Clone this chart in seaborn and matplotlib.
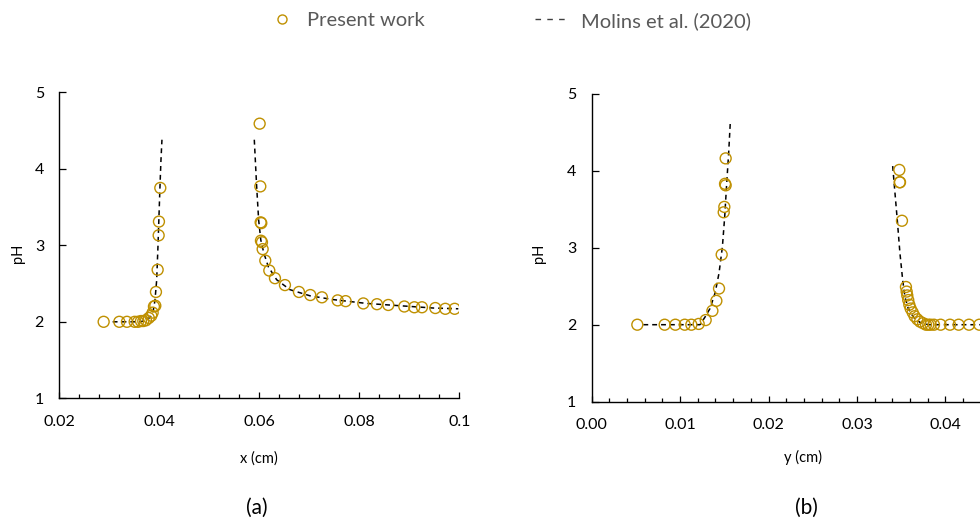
import numpy as np
import pandas as pd
import matplotlib
matplotlib.use("Agg")
import matplotlib.pyplot as plt
import seaborn as sns
from matplotlib.ticker import MultipleLocator
from matplotlib.lines import Line2D

# ---------------- data ----------------
# Panel (a): present work (markers)
a_pw_x = [0.02887, 0.0320, 0.03353, 0.03507, 0.03573, 0.03633, 0.0368, 0.03733, 0.0379, 0.0384,
          0.03867, 0.03893, 0.0392, 0.03933, 0.03967, 0.03987, 0.03993, 0.0402,
          0.06007, 0.0602, 0.06027, 0.0604, 0.06033, 0.06053, 0.06067, 0.0612, 0.062, 0.06313,
          0.06513, 0.06793, 0.0702, 0.07253, 0.07567, 0.07727, 0.0808, 0.08353, 0.0858, 0.089,
          0.091, 0.09253, 0.0952, 0.0972, 0.09907]
a_pw_ph = [2.00, 2.00, 2.00, 2.00, 2.00, 2.01, 2.01, 2.02, 2.05, 2.08,
           2.12, 2.20, 2.21, 2.39, 2.68, 3.13, 3.31, 3.75,
           4.59, 3.77, 3.30, 3.29, 3.06, 3.04, 2.95, 2.80, 2.67, 2.57,
           2.48, 2.39, 2.35, 2.32, 2.28, 2.27, 2.24, 2.23, 2.22, 2.20,
           2.19, 2.19, 2.18, 2.17, 2.17]
# Panel (a): Molins et al. (2020) (dashed), two branches
a_mol_left_x = [0.03067, 0.03613, 0.03747, 0.03827, 0.0388, 0.03913, 0.03947, 0.03973, 0.03993, 0.04013, 0.04033, 0.04053]
a_mol_left_ph = [2.00, 2.00, 2.02, 2.07, 2.15, 2.28, 2.54, 2.98, 3.37, 3.76, 4.11, 4.38]
a_mol_right_x = [0.0590, 0.05947, 0.05987, 0.0603, 0.0609, 0.0618, 0.06347, 0.06613, 0.07013, 0.0748, 0.08147, 0.08813, 0.0948, 0.0998]
a_mol_right_ph = [4.38, 3.77, 3.33, 3.07, 2.90, 2.72, 2.55, 2.42, 2.34, 2.29, 2.24, 2.21, 2.18, 2.17]

# Panel (b): present work (markers)
b_pw_y = [0.00516, 0.00825, 0.00946, 0.01052, 0.01127, 0.0121, 0.01289, 0.01365, 0.0141, 0.0144,
          0.0147, 0.01493, 0.0150, 0.01508, 0.01515, 0.01515,
          0.03479, 0.03483, 0.03487, 0.03509, 0.03554, 0.03562, 0.03569, 0.0358, 0.03592, 0.03607,
          0.0363, 0.03652, 0.03683, 0.03713, 0.03747, 0.03781, 0.03807, 0.03833, 0.03871, 0.03946,
          0.04052, 0.0415, 0.04267, 0.04384]
b_pw_ph = [2.00, 2.00, 2.00, 2.00, 2.00, 2.01, 2.06, 2.18, 2.31, 2.47,
           2.91, 3.46, 3.53, 3.83, 3.81, 4.16,
           4.01, 3.85, 3.85, 3.35, 2.49, 2.43, 2.38, 2.32, 2.26, 2.21,
           2.16, 2.11, 2.07, 2.04, 2.02, 2.00, 2.00, 2.00, 2.00, 2.00,
           2.00, 2.00, 2.00, 2.00]
b_mol_left_y = [0.00584, 0.01225, 0.01282, 0.01338, 0.01395, 0.0144, 0.01478, 0.01504, 0.01527, 0.01549, 0.01568]
b_mol_left_ph = [2.00, 2.00, 2.10, 2.21, 2.41, 2.67, 3.01, 3.40, 3.84, 4.23, 4.64]
b_mol_right_y = [0.03404, 0.0343, 0.03456, 0.03486, 0.03517, 0.03543, 0.0358, 0.03637, 0.03713, 0.03807, 0.0439, 0.0500]
b_mol_right_ph = [4.06, 3.71, 3.36, 2.93, 2.58, 2.36, 2.21, 2.10, 2.03, 2.00, 2.00, 2.00]

a_ticks = [0.02, 0.04, 0.06, 0.08, 0.1]
a_ticklabels = ["0.02", "0.04", "0.06", "0.08", "0.1"]
b_ticks = [0.0, 0.01, 0.02, 0.03, 0.04]
b_ticklabels = ["0.00", "0.01", "0.02", "0.03", "0.04"]
legend_labels = ["Present work", "Molins et al. (2020)"]
panel_labels = ["(a)", "(b)"]

# ---------------- style ----------------
sns.set_theme(style="white")
plt.rcParams['font.family'] = ['Lato', 'DejaVu Sans']

MARK = "#BF9000"
W, H = 980, 519
fig = plt.figure(figsize=(9.8, 5.19), dpi=100)
ax_a = fig.add_axes([59.3 / W, 1 - 398.3 / H, 400 / W, 306 / H])
ax_b = fig.add_axes([591.7 / W, 1 - 401.7 / H, 442.1 / W, 308 / H])

def draw(ax, mx, my, l1x, l1y, l2x, l2y):
    for lx, ly in [(l1x, l1y), (l2x, l2y)]:
        df = pd.DataFrame({"x": lx, "y": ly})
        sns.lineplot(data=df, x="x", y="y", ax=ax, color="black", lw=1.1,
                     sort=False, estimator=None, zorder=2)
        ax.lines[-1].set_dashes([3.2, 2.6])
    dfm = pd.DataFrame({"x": mx, "y": my})
    sns.scatterplot(data=dfm, x="x", y="y", ax=ax, s=62, facecolor="none",
                    edgecolor=MARK, linewidth=1.0, zorder=3)
    ax.set_ylim(1, 5)
    ax.yaxis.set_major_locator(MultipleLocator(1))
    for s in ["top", "right"]:
        ax.spines[s].set_visible(False)
    for s in ["left", "bottom"]:
        ax.spines[s].set_color("black")
        ax.spines[s].set_linewidth(1.0)
    ax.tick_params(axis="both", which="both", direction="in", colors="black",
                   labelsize=11.5, width=0.9, bottom=True, left=True)
    ax.tick_params(axis="x", which="major", length=4, pad=12)
    ax.tick_params(axis="x", which="minor", length=3)
    ax.tick_params(axis="y", which="major", length=5, pad=11)
    ax.set_ylabel("pH", fontsize=10.5, color="black")

draw(ax_a, a_pw_x, a_pw_ph, a_mol_left_x, a_mol_left_ph, a_mol_right_x, a_mol_right_ph)
ax_a.set_xlim(0.02, 0.1)
ax_a.set_xticks(a_ticks)
ax_a.set_xticklabels(a_ticklabels)
ax_a.xaxis.set_minor_locator(MultipleLocator(0.004))
ax_a.set_xlabel("x (cm)", fontsize=10.5, color="black")
ax_a.xaxis.set_label_coords(0.5, -(459 - 398.3) / 306, transform=ax_a.transAxes)
ax_a.xaxis.label.set_va("center")
ax_a.yaxis.set_label_coords(-(59.3 - 18) / 400, (398.3 - 253) / 306, transform=ax_a.transAxes)
ax_a.yaxis.label.set_ha("center")
ax_a.yaxis.label.set_va("center")

draw(ax_b, b_pw_y, b_pw_ph, b_mol_left_y, b_mol_left_ph, b_mol_right_y, b_mol_right_ph)
ax_b.set_xlim(0.0, 0.05)
ax_b.set_xticks(b_ticks)
ax_b.set_xticklabels(b_ticklabels)
ax_b.xaxis.set_minor_locator(MultipleLocator(0.002))
ax_b.set_xlabel("y (cm)", fontsize=10.5, color="black")
ax_b.xaxis.set_label_coords((803 - 591.7) / 442.1, -(457 - 401.7) / 308, transform=ax_b.transAxes)
ax_b.xaxis.label.set_va("center")
ax_b.yaxis.set_label_coords(-(591.7 - 539) / 442.1, (401.7 - 253) / 308, transform=ax_b.transAxes)
ax_b.yaxis.label.set_ha("center")
ax_b.yaxis.label.set_va("center")

fig.text(257 / W, 1 - 508 / H, panel_labels[0], ha="center", va="center", fontsize=15, color="black")
fig.text(806 / W, 1 - 508 / H, panel_labels[1], ha="center", va="center", fontsize=15, color="black")

# legend drawn in figure pixel positions
fig.add_artist(Line2D([282 / W], [1 - 19 / H], transform=fig.transFigure, marker="o",
                      ls="none", mfc="none", mec=MARK, ms=6.5, mew=1.0))
fig.text(307 / W, 1 - 19.5 / H, legend_labels[0], ha="left", va="center_baseline",
         fontsize=14.5, color="#595959")
fig.add_artist(Line2D([535 / W, 566 / W], [1 - 19 / H, 1 - 19 / H], transform=fig.transFigure,
                      color="#404040", lw=1.0, dashes=[4, 4.5]))
fig.text(581 / W, 1 - 19.5 / H, legend_labels[1], ha="left", va="center_baseline",
         fontsize=14.5, color="#595959")

fig.savefig("out.png", dpi=100)
